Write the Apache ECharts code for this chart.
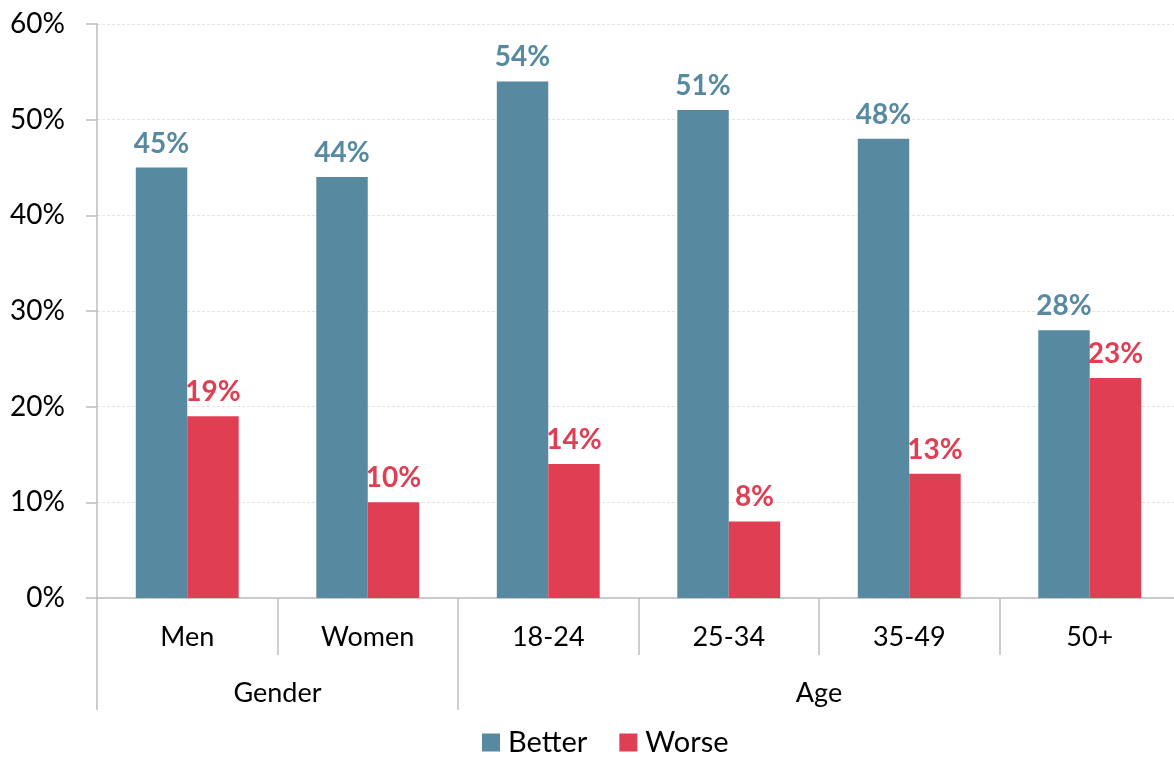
<!DOCTYPE html>
<html><head><meta charset="utf-8">
<script src="https://cdn.jsdelivr.net/npm/echarts@6/dist/echarts.min.js"></script>
<style>html,body{margin:0;padding:0;background:#fff}#c{width:1174px;height:758px}</style>
</head><body><div id="c"></div>
<script>
const categories = ['Men', 'Women', '18-24', '25-34', '35-49', '50+'];
const groups = ['Gender', 'Age'];
const groupCenters = [1, 4];
const groupBounds = [0, 2, 6];
const better = [45, 44, 54, 51, 48, 28];
const worse = [19, 10, 14, 8, 13, 23];
const yTicks = [0, 10, 20, 30, 40, 50, 60];

const FONT = 'Lato';
const BLUE = '#578AA0';
const RED = '#E03E53';
const AX = '#BDBDBD';

const chart = echarts.init(document.getElementById('c'));
chart.setOption({
  animation: false,
  textStyle: { fontFamily: FONT },
  grid: { left: 97, width: 1083, top: 24, height: 574, containLabel: false, outerBoundsMode: 'none' },
  legend: {
    bottom: -4, left: 477,
    itemWidth: 18, itemHeight: 18, itemGap: 32,
    icon: 'rect',
    textStyle: { fontFamily: FONT, fontSize: 29, color: '#000', padding: [0, 0, 0, 3] },
    data: ['Better', 'Worse']
  },
  xAxis: [
    {
      type: 'category', data: categories,
      axisLine: { show: true, lineStyle: { color: AX, width: 1.5 } },
      axisTick: { show: true, interval: 0, length: 57, lineStyle: { color: AX, width: 1.5 } },
      axisLabel: { interval: 0, margin: 26, fontFamily: FONT, fontSize: 27, color: '#000' }
    },
    {
      type: 'value', min: 0, max: 6, position: 'bottom',
      axisLine: { show: false },
      splitLine: { show: false },
      axisTick: { show: true, customValues: groupBounds, length: 112, lineStyle: { color: AX, width: 1.5 } },
      axisLabel: {
        customValues: groupCenters, margin: 82, fontFamily: FONT, fontSize: 27, color: '#000',
        formatter: v => groups[groupCenters.indexOf(v)] || ''
      }
    }
  ],
  yAxis: {
    type: 'value', min: 0, max: 60, interval: 10,
    axisLine: { show: true, lineStyle: { color: AX, width: 1.5 } },
    axisTick: { show: true, length: 11, lineStyle: { color: AX, width: 1.5 } },
    splitLine: { show: true, lineStyle: { color: '#E3E3E3', type: [3, 2], width: 1 } },
    axisLabel: { margin: 32, fontFamily: FONT, fontSize: 28, color: '#000', formatter: v => v + '%' }
  },
  series: [
    {
      name: 'Better', type: 'bar', data: better, barWidth: '28.5%', barGap: '0%',
      itemStyle: { color: BLUE },
      label: { show: true, position: 'top', distance: 10, color: BLUE, fontFamily: FONT, fontWeight: 'bold', fontSize: 28, formatter: '{c}%' }
    },
    {
      name: 'Worse', type: 'bar', data: worse, barWidth: '28.5%', barGap: '0%',
      itemStyle: { color: RED },
      label: { show: true, position: 'top', distance: 10, color: RED, fontFamily: FONT, fontWeight: 'bold', fontSize: 28, formatter: '{c}%' }
    }
  ]
});
</script></body></html>
